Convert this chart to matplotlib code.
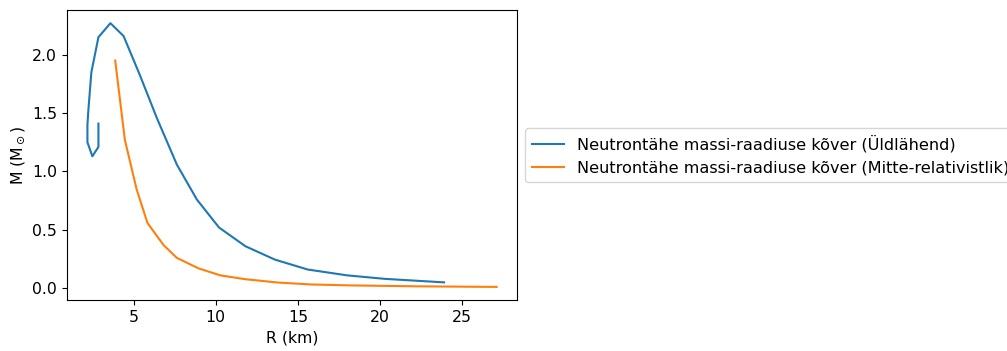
import matplotlib
matplotlib.use("Agg")
import matplotlib.pyplot as plt

# Relativistic (Üldlähend) M-R curve
R_rel = [2.86, 2.86, 2.49, 2.19, 2.19, 2.25, 2.43, 2.86, 3.59, 4.39, 5.37, 6.41, 7.63, 8.85, 10.2, 11.8, 13.6, 15.6, 18.0, 20.3, 23.9]
M_rel = [1.41, 1.21, 1.13, 1.25, 1.40, 1.53, 1.85, 2.15, 2.27, 2.16, 1.83, 1.46, 1.06, 0.76, 0.52, 0.36, 0.245, 0.16, 0.11, 0.08, 0.05]

# Non-relativistic (Mitte-relativistlik) M-R curve
R_nrel = [3.88, 4.47, 5.18, 5.84, 6.82, 7.63, 8.95, 10.28, 11.8, 13.74, 15.78, 18.2, 22.3, 27.1]
M_nrel = [1.95, 1.27, 0.85, 0.56, 0.37, 0.26, 0.17, 0.11, 0.077, 0.049, 0.032, 0.024, 0.016, 0.011]

labels = ["Neutrontähe massi-raadiuse kõver (Üldlähend)",
          "Neutrontähe massi-raadiuse kõver (Mitte-relativistlik)"]

plt.rcParams['font.size'] = 11.3
fig = plt.figure(figsize=(10.07, 3.51), dpi=100)
ax = fig.add_axes([0.0665, 0.145, 0.447, 0.8265])
ax.plot(R_rel, M_rel, label=labels[0])
ax.plot(R_nrel, M_nrel, label=labels[1])
ax.set_xlabel("R (km)")
ax.set_ylabel(r"M (M$_\odot$)")
ax.legend(loc="center left", bbox_to_anchor=(1, 0.5), fontsize=11.6)
fig.savefig("out.png", dpi=100)
